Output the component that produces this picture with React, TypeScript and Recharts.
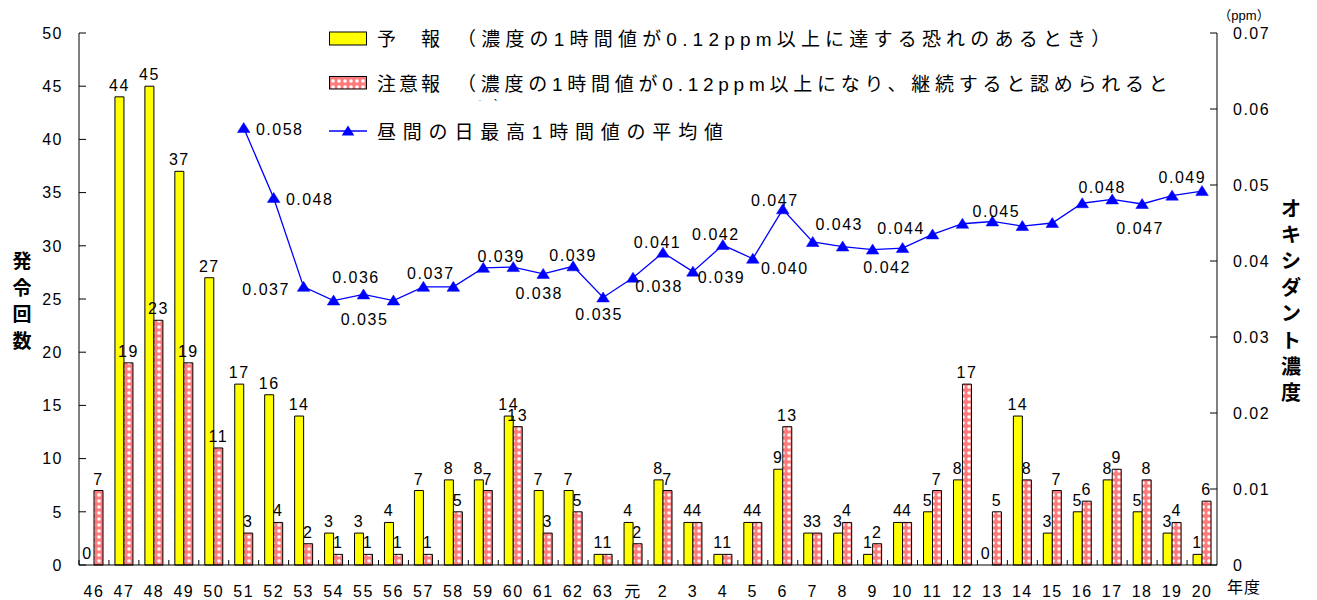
import React from 'react';
import { ComposedChart, Bar, Line, XAxis, YAxis, LabelList, Rectangle } from 'recharts';

// ---- data ----
const categories = ['46','47','48','49','50','51','52','53','54','55','56','57','58','59','60','61','62','63','元','2','3','4','5','6','7','8','9','10','11','12','13','14','15','16','17','18','19','20'];
const yohoCounts = [0,44,45,37,27,17,16,14,3,3,4,7,8,8,14,7,7,1,4,8,4,1,4,9,3,3,1,4,5,8,0,14,3,5,8,5,3,1];
const chuihoCounts = [7,19,23,19,11,3,4,2,1,1,1,1,5,7,13,3,5,1,2,7,4,1,4,13,3,4,2,4,7,17,5,8,7,6,9,8,4,6];
const oxidantAvg: (number | null)[] = [null,null,null,null,null,0.0575,0.0483,0.0366,0.0348,0.0356,0.0348,0.0366,0.0366,0.0391,0.0392,0.0383,0.0393,0.0352,0.0378,0.0411,0.0386,0.0421,0.0403,0.0468,0.0425,0.0419,0.0415,0.0417,0.0435,0.0449,0.0452,0.0446,0.0450,0.0476,0.0481,0.0475,0.0486,0.0492];
const oxidantLabels = ['','','','','','0.058','0.048','0.037','0.035','0.036','','0.037','','','0.039','0.038','0.039','0.035','0.038','0.041','0.039','0.042','0.040','0.047','0.043','','0.042','','0.044','','0.045','','','','0.048','0.047','','0.049'];
const leftTicks = [0,5,10,15,20,25,30,35,40,45,50];
const rightTicks = [0,0.01,0.02,0.03,0.04,0.05,0.06,0.07];
const rightTickLabels = ['0','0.01','0.02','0.03','0.04','0.05','0.06','0.07'];

const legendYoho = '予　報';
const legendYohoNote = '（濃度の1時間値が0.12ppm以上に達する恐れのあるとき）';
const legendChuiho = '注意報';
const legendChuihoNote = '（濃度の1時間値が0.12ppm以上になり、継続すると認められると';
const legendChuihoWrap = 'き）';
const legendLine = '昼間の日最高1時間値の平均値';
const leftTitle = '発令回数';
const rightTitle = 'オキシダント濃度';
const unitLabel = '（ppm）';
const xUnitLabel = '年度';

// ---- style (label placement offsets for the line's data labels) ----
const lineLabelOffset: Record<number, [number, number]> = {
  5: [36, 1], 6: [36, 1], 7: [-37.5, 2], 8: [31, 19], 9: [-7.5, -17.6], 11: [7.5, -13.4],
  14: [-12, -11], 15: [-4, 19], 16: [0, -11], 17: [-4, 17], 18: [26, 9], 19: [-5.5, -10.7],
  20: [28.5, 6], 21: [-7, -11], 22: [32, 10], 23: [-8, -9.3], 24: [26.5, -17.7], 26: [14.5, 17.4],
  28: [-31.4, -5.7], 30: [4, -10], 34: [-10, -12.7], 35: [-2, 24], 37: [-19.7, -14.3],
};

const data = categories.map((c, i) => ({
  cat: c,
  yoho: yohoCounts[i],
  chuiho: chuihoCounts[i],
  ox: oxidantAvg[i],
}));

const FONT = "'Liberation Sans', 'Noto Sans CJK JP', sans-serif";
const NUM_SIZE = 16;
const NUM_LS = 1.5;

const LeftTick = (p: any) => {
  const { x, y, payload } = p;
  return (
    <g>
      <line x1={x + 16} x2={x + 23} y1={y} y2={y} stroke="#000" strokeWidth={1} />
      <text x={x} y={y} dy="0.36em" textAnchor="end" fontSize={NUM_SIZE} fontFamily={FONT} letterSpacing={NUM_LS} fill="#000">
        {payload.value}
      </text>
    </g>
  );
};

const RightTick = (p: any) => {
  const { x, y, payload } = p;
  const idx = rightTicks.indexOf(payload.value);
  const label = idx >= 0 ? rightTickLabels[idx] : String(payload.value);
  return (
    <g>
      <line x1={x - 16} x2={x - 23} y1={y} y2={y} stroke="#000" strokeWidth={1} />
      <text x={x} y={y} dy="0.36em" textAnchor="start" fontSize={NUM_SIZE} fontFamily={FONT} letterSpacing={NUM_LS} fill="#000">
        {label}
      </text>
    </g>
  );
};

const BottomTick = (p: any) => {
  const { x, y, payload } = p;
  let half = typeof payload.offset === 'number' && payload.offset > 0 ? payload.offset : 0;
  if (!half && typeof p.width === 'number' && p.width > 0) half = p.width / categories.length / 2;
  return (
    <g>
      {half > 0 && (
        <line x1={x - half} x2={x - half} y1={y - 20} y2={y - 25} stroke="#000" strokeWidth={1} />
      )}
      <text x={x} y={y + 12} textAnchor="middle" fontSize={NUM_SIZE} fontFamily={FONT} letterSpacing={NUM_LS} fill="#000">
        {payload.value}
      </text>
    </g>
  );
};

// labels above non-zero bars (zero labels are drawn by the bar shape)
const BarTopLabel = (p: any) => {
  const vb = p.viewBox && typeof p.viewBox.x === 'number' ? p.viewBox : p;
  const { x, y, width } = vb;
  if (p.value == null || p.value === 0 || x == null) return null;
  return (
    <text x={x + width / 2} y={y - 6} textAnchor="middle" fontSize={NUM_SIZE} fontFamily={FONT} letterSpacing={NUM_LS} fill="#000">
      {p.value}
    </text>
  );
};

// yellow bar shape: draws the rectangle, and the "0" label for zero-height bars
const YohoShape = (p: any) => {
  const { x, y, width, height, index } = p;
  const v = yohoCounts[index];
  return (
    <g>
      {height > 0 && <Rectangle {...p} />}
      {v === 0 && (
        <text x={x + width / 2 - 2} y={y - 6} textAnchor="middle" fontSize={NUM_SIZE} fontFamily={FONT} letterSpacing={NUM_LS} fill="#000">
          {v}
        </text>
      )}
    </g>
  );
};

const LineLabel = (p: any) => {
  const vb = p.viewBox && typeof p.viewBox.x === 'number' ? p.viewBox : p;
  const { x, y } = vb;
  const idx = p.index;
  if (idx == null || x == null || y == null) return null;
  const txt = oxidantLabels[idx];
  const off = lineLabelOffset[idx];
  if (!txt || !off) return null;
  return (
    <text x={x + off[0]} y={y + off[1]} dy="0.36em" textAnchor="middle" fontSize={NUM_SIZE} fontFamily={FONT} letterSpacing={NUM_LS} fill="#000">
      {txt}
    </text>
  );
};

const TriangleDot = (p: any) => {
  const { cx, cy, index } = p;
  if (cx == null || cy == null || p.value == null || Number.isNaN(cy)) return <g key={`d${index}`} />;
  return (
    <polygon
      key={`d${index}`}
      points={`${cx},${cy - 5.5} ${cx - 6.3},${cy + 4.5} ${cx + 6.3},${cy + 4.5}`}
      fill="#0000FF"
      stroke="#0000FF"
      strokeWidth={0.5}
    />
  );
};

export default function App() {
  return (
    <div style={{ position: 'absolute', left: 0, top: 0, width: 1317, height: 600, background: '#fff' }}>
      <svg width={0} height={0} style={{ position: 'absolute' }}>
        <defs>
          <pattern id="pinkDots" width="6" height="6" patternUnits="userSpaceOnUse">
            <rect width="6" height="6" fill="#FF7A7A" />
            <circle cx="3" cy="3" r="1.8" fill="#FFFFFF" />
          </pattern>
          <clipPath id="legendClip">
            <rect x="0" y="0" width="1317" height="100.5" />
          </clipPath>
        </defs>
      </svg>
      <ComposedChart
        width={1317}
        height={600}
        data={data}
        margin={{ top: 33, right: 0, bottom: 0, left: 0 }}
        barGap={0}
      >
        <XAxis
          dataKey="cat"
          type="category"
          interval={0}
          height={35}
          axisLine={{ stroke: '#000', strokeWidth: 1 }}
          tickLine={false}
          tickSize={0}
          tickMargin={20}
          tick={(p: any) => <BottomTick {...p} />}
        />
        <YAxis
          yAxisId="left"
          orientation="left"
          width={79}
          domain={[0, 50]}
          ticks={leftTicks}
          allowDecimals={false}
          axisLine={{ stroke: '#000', strokeWidth: 1 }}
          tickLine={false}
          tickSize={0}
          tickMargin={16}
          tick={(p: any) => <LeftTick {...p} />}
        />
        <YAxis
          yAxisId="right"
          orientation="right"
          width={100}
          domain={[0, 0.07]}
          ticks={rightTicks}
          axisLine={{ stroke: '#000', strokeWidth: 1 }}
          tickLine={false}
          tickSize={0}
          tickMargin={16}
          tick={(p: any) => <RightTick {...p} />}
        />
        <Bar yAxisId="left" dataKey="yoho" barSize={9} fill="#FFFF00" stroke="#000" strokeWidth={1} shape={YohoShape} isAnimationActive={false}>
          <LabelList dataKey="yoho" content={BarTopLabel} />
        </Bar>
        <Bar yAxisId="left" dataKey="chuiho" barSize={9} fill="url(#pinkDots)" stroke="#000" strokeWidth={1} isAnimationActive={false}>
          <LabelList dataKey="chuiho" content={BarTopLabel} />
        </Bar>
        <Line
          yAxisId="right"
          dataKey="ox"
          stroke="#0000FF"
          strokeWidth={1.3}
          dot={TriangleDot}
          activeDot={false}
          isAnimationActive={false}
          connectNulls={false}
        >
          <LabelList dataKey="ox" content={LineLabel} />
        </Line>
      </ComposedChart>

      <svg width={1317} height={600} style={{ position: 'absolute', left: 0, top: 0, pointerEvents: 'none' }} fontFamily={FONT} fill="#000">
        {/* legend */}
        <rect x={329.5} y={32} width={37} height={13} fill="#FFFF00" stroke="#000" strokeWidth={1} />
        <text x={377} y={46} fontSize={19} letterSpacing={3}>{legendYoho}</text>
        <text x={457} y={46} fontSize={19} letterSpacing={5.2}>{legendYohoNote}</text>

        <rect x={329.5} y={76.5} width={37} height={12.5} fill="url(#pinkDots)" stroke="#000" strokeWidth={1} />
        <text x={377} y={91} fontSize={19} letterSpacing={3}>{legendChuiho}</text>
        <text x={457} y={91} fontSize={19} letterSpacing={4.75}>{legendChuihoNote}</text>
        <g clipPath="url(#legendClip)">
          <text x={470} y={116} fontSize={19} letterSpacing={4.5}>{legendChuihoWrap}</text>
        </g>

        <line x1={329} x2={367} y1={131} y2={131} stroke="#0000FF" strokeWidth={1.3} />
        <polygon points={`348,125.5 341.7,135.5 354.3,135.5`} fill="#0000FF" />
        <text x={377} y={139} fontSize={19} letterSpacing={6.8}>{legendLine}</text>

        {/* axis titles */}
        {leftTitle.split('').map((ch, i) => (
          <text key={`lt${i}`} x={22} y={261 + i * 26.5} dy="0.38em" textAnchor="middle" fontSize={19} fontWeight="bold">{ch}</text>
        ))}
        {rightTitle.split('').map((ch, i) => (
          <text key={`rt${i}`} x={1291} y={208 + i * 26.4} dy="0.38em" textAnchor="middle" fontSize={20} fontWeight="bold">{ch}</text>
        ))}
        <text x={1244} y={15} dy="0.38em" textAnchor="middle" fontSize={13}>{unitLabel}</text>
        <text x={1227} y={587} dy="0.38em" textAnchor="start" fontSize={16} letterSpacing={1}>{xUnitLabel}</text>
      </svg>
    </div>
  );
}
